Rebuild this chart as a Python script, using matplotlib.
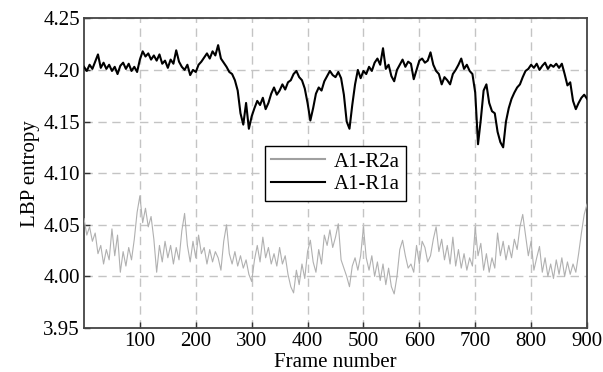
import numpy as np
import matplotlib
matplotlib.use("Agg")
import matplotlib.pyplot as plt

plt.rcParams['font.family'] = ['Liberation Serif', 'DejaVu Serif']
plt.rcParams['mathtext.fontset'] = 'stix'

# A1-R1a (black), frames 0..900 step 5
r1a = [
    4.203, 4.199, 4.205, 4.201, 4.208, 4.215, 4.202, 4.207, 4.201, 4.205,
    4.199, 4.203, 4.196, 4.204, 4.207, 4.201, 4.206, 4.199, 4.203, 4.198,
    4.210, 4.218, 4.213, 4.216, 4.210, 4.214, 4.209, 4.215, 4.206, 4.209,
    4.202, 4.210, 4.206, 4.219, 4.208, 4.203, 4.200, 4.205, 4.195, 4.200,
    4.198, 4.205, 4.208, 4.212, 4.216, 4.211, 4.218, 4.214, 4.224, 4.211,
    4.207, 4.203, 4.198, 4.196, 4.190, 4.180, 4.158, 4.147, 4.168, 4.143,
    4.155, 4.163, 4.170, 4.166, 4.173, 4.162, 4.168, 4.177, 4.183, 4.176,
    4.180, 4.186, 4.181, 4.188, 4.190, 4.196, 4.199, 4.193, 4.190, 4.182,
    4.168, 4.151, 4.163, 4.177, 4.183, 4.180, 4.189, 4.194, 4.199, 4.195,
    4.193, 4.198, 4.192, 4.176, 4.150, 4.143, 4.166, 4.186, 4.200, 4.192,
    4.199, 4.196, 4.203, 4.199, 4.207, 4.211, 4.205, 4.221, 4.201, 4.205,
    4.194, 4.189, 4.200, 4.205, 4.210, 4.203, 4.208, 4.206, 4.191, 4.200,
    4.209, 4.211, 4.207, 4.209, 4.217, 4.205, 4.199, 4.196, 4.186, 4.193,
    4.190, 4.186, 4.196, 4.200, 4.205, 4.211, 4.201, 4.205, 4.199, 4.196,
    4.178, 4.128, 4.152, 4.180, 4.186, 4.168, 4.160, 4.158, 4.140, 4.130,
    4.125, 4.150, 4.163, 4.172, 4.178, 4.183, 4.186, 4.193, 4.199, 4.201,
    4.205, 4.202, 4.206, 4.200, 4.204, 4.207, 4.201, 4.205, 4.203, 4.206,
    4.202, 4.206, 4.196, 4.185, 4.188, 4.170, 4.162, 4.168, 4.173, 4.176,
    4.172,
]

# A1-R2a (gray), frames 0..900 step 5
r2a = [
    4.056, 4.040, 4.048, 4.034, 4.042, 4.022, 4.030, 4.012, 4.026, 4.016,
    4.046, 4.020, 4.040, 4.004, 4.024, 4.010, 4.028, 4.016, 4.036, 4.062,
    4.078, 4.052, 4.066, 4.048, 4.058, 4.036, 4.004, 4.030, 4.014, 4.034,
    4.018, 4.030, 4.012, 4.028, 4.016, 4.044, 4.061, 4.030, 4.014, 4.034,
    4.018, 4.040, 4.022, 4.028, 4.012, 4.026, 4.014, 4.024, 4.018, 4.006,
    4.034, 4.050, 4.022, 4.012, 4.024, 4.010, 4.020, 4.008, 4.016, 4.002,
    3.995, 4.016, 4.030, 4.014, 4.038, 4.018, 4.028, 4.012, 4.022, 4.010,
    4.028, 4.012, 4.020, 4.002, 3.990, 3.984, 4.006, 3.992, 4.012, 3.998,
    4.024, 4.035, 4.014, 4.004, 4.026, 4.012, 4.040, 4.030, 4.045, 4.028,
    4.038, 4.051, 4.016, 4.008, 4.000, 3.990, 4.010, 4.018, 4.006, 4.020,
    4.048, 4.018, 4.006, 4.020, 4.000, 4.014, 3.996, 4.012, 3.992, 4.008,
    3.990, 3.983, 4.000, 4.026, 4.035, 4.020, 4.008, 4.012, 4.004, 4.030,
    4.012, 4.034, 4.028, 4.014, 4.020, 4.036, 4.048, 4.024, 4.036, 4.016,
    4.030, 4.012, 4.038, 4.010, 4.026, 4.008, 4.022, 4.006, 4.018, 4.010,
    4.048, 4.020, 4.032, 4.006, 4.022, 4.004, 4.018, 4.008, 4.042, 4.020,
    4.034, 4.016, 4.030, 4.018, 4.036, 4.026, 4.048, 4.060, 4.040, 4.020,
    4.034, 4.006, 4.018, 4.029, 4.004, 4.018, 4.000, 4.012, 3.998, 4.016,
    4.002, 4.018, 4.000, 4.014, 4.002, 4.012, 4.004, 4.022, 4.042, 4.060,
    4.070,
]

frames_r1a = np.arange(len(r1a)) * 5
frames_r2a = np.arange(len(r2a)) * 5

xticks = [100, 200, 300, 400, 500, 600, 700, 800, 900]
yticks = [3.95, 4.00, 4.05, 4.10, 4.15, 4.20, 4.25]
ytick_labels = ["3.95", "4.00", "4.05", "4.10", "4.15", "4.20", "4.25"]

fig = plt.figure(figsize=(6.03, 3.72), dpi=100)
ax = fig.add_axes([84/603, 1 - 328/372, (587-84)/603, (328-18.3)/372])

ax.plot(frames_r2a, r2a, color='#b0b0b0', lw=0.8, label='A1-R2a', zorder=3)
ax.plot(frames_r1a, r1a, color='black', lw=1.5, label='A1-R1a', zorder=4)

ax.set_xlim(0, 900)
ax.set_ylim(3.95, 4.25)
ax.set_xticks(xticks)
ax.set_yticks(yticks)
ax.set_yticklabels(ytick_labels)
ax.tick_params(direction='in', length=4, width=1, labelsize=15, color='#333333', pad=3)
ax.grid(True, color='#c4c4c4', linestyle=(0, (6, 4)), lw=1.0, zorder=0)
for s in ax.spines.values():
    s.set_color('#444444')
    s.set_linewidth(1.3)

ax.set_xlabel('Frame number', fontsize=15, labelpad=1)
ax.set_ylabel('LBP entropy', fontsize=15, labelpad=2)

leg = ax.legend(loc='center', fontsize=15, frameon=True, fancybox=False,
                edgecolor='black', handlelength=2.6, borderpad=0.3,
                labelspacing=0.15, handletextpad=0.4, borderaxespad=0.2)
leg.get_frame().set_linewidth(1.0)
leg.get_frame().set_alpha(1.0)
for line in leg.get_lines():
    line.set_linewidth(1.5)
leg.get_lines()[0].set_color('#a0a0a0')

fig.savefig('out.png', dpi=100)
